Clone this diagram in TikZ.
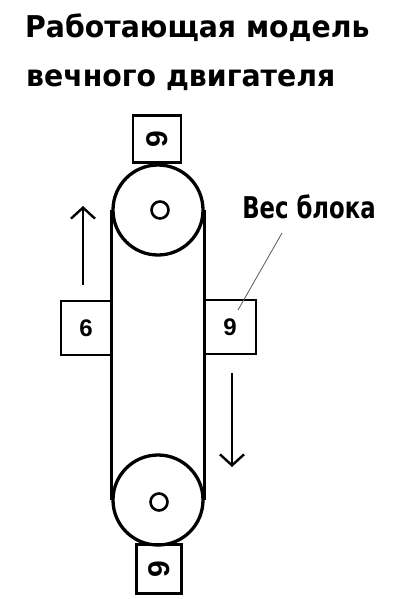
\documentclass[tikz,border=0pt]{standalone}
\usepackage{fontspec}
\setmainfont{Liberation Sans}
\newfontfamily\titlefont{DejaVu Sans}
\usetikzlibrary{arrows.meta}
\begin{document}
\begin{tikzpicture}[x=1pt,y=-1pt,
    pulley/.style={circle,draw,line width=3.3pt,minimum size=90pt,inner sep=0pt},
    axle/.style={circle,draw,line width=2.6pt,minimum size=17pt,inner sep=0pt},
    weight/.style={draw,line width=2.7pt,inner sep=0pt,font=\fontsize{24}{24}\selectfont\bfseries},
    motion/.style={line width=2.4pt,-{Straight Barb[length=11pt,width=24pt,line width=2.4pt]}}]
  \useasboundingbox[fill=white] (0,0) rectangle (419,599);
  % title
  \node[anchor=base west,inner sep=0pt,font=\titlefont\bfseries\fontsize{30}{30}\selectfont] (title1) at (25,38) {\scalebox{0.945}[1]{Работающая модель}};
  \node[anchor=base west,inner sep=0pt,font=\titlefont\bfseries\fontsize{30}{30}\selectfont] (title2) at (26,87) {\scalebox{0.945}[1]{вечного двигателя}};
  % pulleys and belt
  \node[pulley] (top) at (158,210) {};
  \node[pulley] (bottom) at (158,500) {};
  \node[axle] (topaxle) at (160,210) {};
  \node[axle] (bottomaxle) at (159,502) {};
  \draw[line width=3.3pt] (top.west) -- (bottom.west);
  \draw[line width=3.3pt] (top.east) -- (bottom.east);
  % weights
  \node[weight,minimum width=48pt,minimum height=47pt] (wtop) at (157,139) {\rotatebox{90}{\fontsize{30}{30}\selectfont 9}};
  \node[weight,minimum width=50pt,minimum height=54pt] (wleft) at (86,328) {6};
  \node[weight,minimum width=52pt,minimum height=54pt] (wright) at (230,327) {9};
  \node[weight,minimum width=45pt,minimum height=49pt] (wbottom) at (159,569) {\rotatebox{90}{\fontsize{30}{30}\selectfont 9}};
  % direction of motion
  \coordinate (upfrom) at (83,285);
  \coordinate (upto) at (83,206);
  \coordinate (downfrom) at (232,373);
  \coordinate (downto) at (232,467);
  \draw[motion] (upfrom) -- (upto);
  \draw[motion] (downfrom) -- (downto);
  % label
  \node[inner sep=0pt,font=\titlefont\fontsize{30}{30}\selectfont\bfseries] (tag) at (309,207) {\scalebox{0.76}[1]{Вес блока}};
  \coordinate (tagfrom) at (282,233);
  \coordinate (tagto) at (238,310);
  \draw[gray!70!black,line width=0.8pt] (tagfrom) -- (tagto);
\end{tikzpicture}
\end{document}
